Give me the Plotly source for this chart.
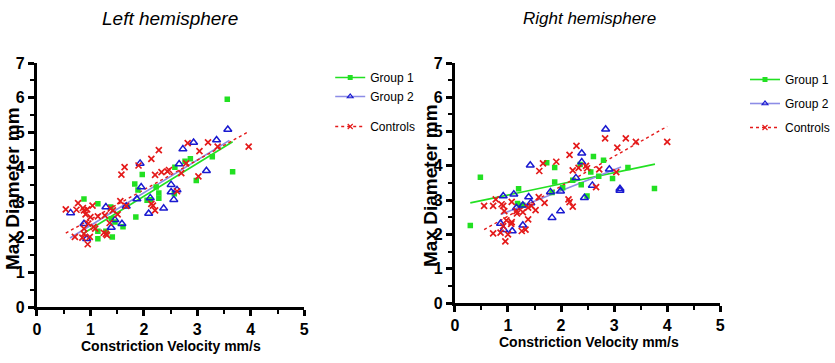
import plotly.graph_objects as go

# ---------------- Left hemisphere data ----------------
L_g1_x = [3.56, 3.66, 3.28, 2.87, 2.77, 2.98, 2.58, 2.57, 2.28, 2.28, 2.23, 1.97, 1.89, 1.83, 2.12, 2.06,
          1.85, 1.61, 1.46, 1.41, 1.39, 1.38, 1.29, 1.14, 1.14, 1.14, 0.88]
L_g1_y = [5.96, 3.88, 4.31, 4.25, 4.18, 3.63, 4.01, 3.25, 3.27, 3.12, 3.44, 3.80, 3.36, 3.53, 3.08, 3.06,
          2.58, 2.30, 2.44, 2.01, 2.53, 2.87, 2.17, 2.96, 2.17, 1.96, 3.10]
L_g2_x = [3.57, 3.36, 2.93, 2.73, 2.66, 3.17, 2.51, 2.51, 2.62, 2.56, 2.37, 2.12, 2.09, 1.95, 1.93, 1.87,
          1.67, 1.59, 1.46, 1.39, 1.29, 0.88, 0.93, 0.63]
L_g2_y = [5.09, 4.79, 4.72, 4.53, 4.10, 3.91, 3.51, 3.30, 3.36, 3.08, 2.83, 3.13, 2.68, 3.44, 4.12, 3.10,
          2.89, 2.39, 2.50, 2.28, 2.87, 2.39, 1.96, 2.70]
L_c_x = [3.96, 3.38, 3.20, 2.82, 3.04, 2.79, 2.70, 3.02, 2.28, 2.14, 2.21, 2.33, 2.44, 2.47, 2.62, 1.64,
         1.58, 1.90, 2.14, 2.17, 2.21, 1.56, 1.67, 1.51, 1.38, 1.42, 1.36, 1.29, 1.31, 1.25, 1.27, 1.14,
         1.06, 1.04, 0.94, 0.86, 0.88, 0.91, 0.88, 0.88, 0.96, 0.99, 0.95, 0.85, 0.71, 0.74, 0.77, 0.54,
         1.00, 1.09]
L_c_y = [4.60, 4.60, 4.72, 4.70, 4.47, 4.12, 3.84, 3.75, 4.50, 4.25, 3.79, 3.87, 3.89, 3.93, 3.32, 4.01,
         3.80, 4.06, 2.96, 2.91, 2.77, 3.04, 2.90, 2.66, 2.82, 2.77, 2.41, 2.10, 2.06, 2.13, 2.63, 2.60,
         2.30, 2.91, 2.80, 2.84, 2.77, 2.66, 2.25, 2.10, 2.39, 2.01, 1.80, 1.99, 2.01, 2.79, 2.98, 2.80,
         2.58, 2.25]
# fitted lines (endpoints)
L_g1_fit_x = [0.86, 3.66]
L_g1_fit_y = [2.10, 4.74]
L_g2_fit_x = [0.62, 3.60]
L_g2_fit_y = [1.98, 4.78]
L_c_fit_x = [0.54, 3.97]
L_c_fit_y = [2.12, 5.04]

# ---------------- Right hemisphere data ----------------
R_g1_x = [0.29, 0.48, 1.20, 1.18, 1.28, 1.73, 1.88, 1.88, 1.83, 2.03, 2.22, 2.36, 2.38, 2.49, 2.56, 2.61,
          2.71, 2.80, 2.97, 3.26, 3.76]
R_g1_y = [2.26, 3.67, 3.33, 2.90, 2.85, 4.09, 3.95, 3.53, 3.22, 3.36, 3.58, 4.04, 3.45, 3.12, 3.82, 4.27,
          3.70, 4.16, 3.63, 3.95, 3.34]
R_g2_x = [2.84, 2.39, 2.39, 2.28, 2.59, 2.44, 2.91, 3.11, 3.11, 1.99, 1.99, 1.83, 1.80, 1.42, 1.39, 1.43,
          1.28, 1.28, 1.11, 1.16, 1.08, 0.91, 0.86, 0.92]
R_g2_y = [5.07, 4.37, 4.11, 3.65, 3.43, 3.07, 3.90, 3.33, 3.28, 3.26, 2.68, 2.49, 3.24, 4.02, 3.09, 2.92,
          2.85, 2.27, 3.17, 2.78, 2.10, 3.12, 2.32, 2.14]
R_c_x = [4.00, 3.41, 3.22, 3.06, 3.04, 2.83, 2.66, 2.72, 2.47, 2.49, 2.33, 2.29, 2.16, 2.22, 2.14, 2.16,
         2.22, 1.91, 1.66, 1.59, 1.58, 1.69, 1.52, 1.44, 1.38, 1.38, 1.33, 1.26, 1.28, 1.17, 1.16, 1.07,
         1.07, 1.06, 0.97, 1.00, 0.95, 0.86, 0.91, 0.91, 0.88, 0.93, 0.77, 0.72, 0.72, 0.55]
R_c_y = [4.70, 4.70, 4.80, 4.53, 3.82, 4.80, 3.38, 3.90, 4.00, 3.93, 3.94, 4.58, 4.32, 3.87, 3.02, 2.94,
         2.81, 4.12, 4.07, 3.85, 3.09, 2.92, 2.71, 2.83, 2.78, 2.44, 2.14, 2.10, 2.65, 2.61, 2.68, 2.95,
         2.36, 2.31, 2.41, 2.00, 1.80, 2.05, 2.24, 2.83, 2.88, 2.68, 3.02, 2.83, 2.03, 2.83]
R_g1_fit_x = [0.29, 3.77]
R_g1_fit_y = [2.92, 4.05]
R_g2_fit_x = [0.86, 3.13]
R_g2_fit_y = [2.58, 3.97]
R_c_fit_x = [0.55, 4.00]
R_c_fit_y = [2.14, 5.15]

series_names = ["Group 1", "Group 2", "Controls"]
x_ticks = [0, 1, 2, 3, 4, 5]
y_ticks = [0, 1, 2, 3, 4, 5, 6, 7]

GREEN = "#22e022"
BLUE = "#1a1ad0"
BLUE_LINE = "#8c8ce6"
RED = "#e41a1a"

SANS = "Liberation Sans, Arial, sans-serif"

fig = go.Figure()

panels = [
    ("x", "y", "legend", ["a", "a", "b"],
     (L_g1_x, L_g1_y, L_g1_fit_x, L_g1_fit_y),
     (L_g2_x, L_g2_y, L_g2_fit_x, L_g2_fit_y),
     (L_c_x, L_c_y, L_c_fit_x, L_c_fit_y)),
    ("x2", "y2", "legend2", ["a", "b", "c"],
     (R_g1_x, R_g1_y, R_g1_fit_x, R_g1_fit_y),
     (R_g2_x, R_g2_y, R_g2_fit_x, R_g2_fit_y),
     (R_c_x, R_c_y, R_c_fit_x, R_c_fit_y)),
]

marker_styles = [
    dict(symbol="square", size=5.5, color=GREEN),
    dict(symbol="triangle-up-open", size=7, color=BLUE, line=dict(width=1.5, color=BLUE)),
    dict(symbol="x-thin", size=6, color=RED, line=dict(width=1.7, color=RED)),
]
line_styles = [
    dict(color=GREEN, width=1.6),
    dict(color=BLUE_LINE, width=1.6),
    dict(color=RED, width=1.4, dash="dot"),
]
legend_markers = [
    dict(symbol="square", size=5, color=GREEN),
    dict(symbol="triangle-up-open", size=5, color=BLUE, line=dict(width=1.2, color=BLUE)),
    dict(symbol="x-thin", size=5, color=RED, line=dict(width=1.2, color=RED)),
]

for xa, ya, lg, groups, *sets in panels:
    for i, (sx, sy, fx, fy) in enumerate(sets):
        fig.add_trace(go.Scatter(x=fx, y=fy, mode="lines", line=line_styles[i],
                                 xaxis=xa, yaxis=ya, showlegend=False, hoverinfo="skip"))
    for i, (sx, sy, fx, fy) in enumerate(sets):
        fig.add_trace(go.Scatter(x=sx, y=sy, mode="markers", marker=marker_styles[i],
                                 xaxis=xa, yaxis=ya, showlegend=False))
    for i in range(3):
        fig.add_trace(go.Scatter(x=[None], y=[None], mode="lines+markers", name=series_names[i],
                                 line=line_styles[i], marker=legend_markers[i],
                                 xaxis=xa, yaxis=ya, legend=lg, legendgroup=lg + groups[i]))

W, H = 835, 363

def px_x(v):
    return v / W

def px_y(v):
    return 1 - v / H

axis_common = dict(
    showgrid=False, zeroline=False, showline=True, linecolor="black", linewidth=3,
    ticks="outside", ticklen=6, tickwidth=2.5, tickcolor="black", automargin=False,
    minor=dict(ticks="outside", ticklen=4, tickwidth=2, tickcolor="black"),
    tickfont=dict(family=SANS, size=16, color="black", weight="bold"),
)

legend_common = dict(
    xanchor="left", yanchor="top",
    font=dict(family=SANS, size=12, color="black"),
    bgcolor="rgba(0,0,0,0)", itemwidth=30,
)

fig.update_layout(
    width=W, height=H,
    margin=dict(l=0, r=0, t=0, b=0),
    paper_bgcolor="white", plot_bgcolor="white",
    xaxis=dict(domain=[px_x(37), px_x(305)], range=[0, 5], tickvals=x_ticks, anchor="y",
               minor_dtick=0.5, **axis_common),
    yaxis=dict(domain=[px_y(307), px_y(63)], range=[0, 7], tickvals=y_ticks, anchor="x",
               minor_dtick=0.5, **axis_common),
    xaxis2=dict(domain=[px_x(456), px_x(722)], range=[0, 5], tickvals=x_ticks, anchor="y2",
                minor_dtick=0.5, **axis_common),
    yaxis2=dict(domain=[px_y(303), px_y(63)], range=[0, 7], tickvals=y_ticks, anchor="x2",
                minor_dtick=0.5, **axis_common),
    legend=dict(x=px_x(331), y=px_y(63), tracegroupgap=11, **legend_common),
    legend2=dict(x=px_x(747), y=px_y(65), tracegroupgap=5, **legend_common),
)

annos = [
    dict(text="<i>Left hemisphere</i>", x=px_x(170), y=px_y(18), font=dict(family=SANS, size=19)),
    dict(text="<i>Right hemisphere</i>", x=px_x(591), y=px_y(18), font=dict(family=SANS, size=17)),
    dict(text="<b>Max Diameter mm</b>", x=px_x(12), y=px_y(188), textangle=-90,
         font=dict(family=SANS, size=19)),
    dict(text="<b>Max Diameter mm</b>", x=px_x(431), y=px_y(185), textangle=-90,
         font=dict(family=SANS, size=19)),
    dict(text="<b>Constriction Velocity mm/s</b>", x=px_x(171), y=px_y(346),
         font=dict(family=SANS, size=14)),
    dict(text="<b>Constriction Velocity mm/s</b>", x=px_x(590), y=px_y(342),
         font=dict(family=SANS, size=14)),
]
for a in annos:
    a["font"]["color"] = "black"
    fig.add_annotation(xref="paper", yref="paper", showarrow=False,
                       xanchor="center", yanchor="middle", **a)

fig.write_html("out.html", config={"displayModeBar": False},
               post_script="document.body.style.margin='0';document.body.style.padding='0';")
